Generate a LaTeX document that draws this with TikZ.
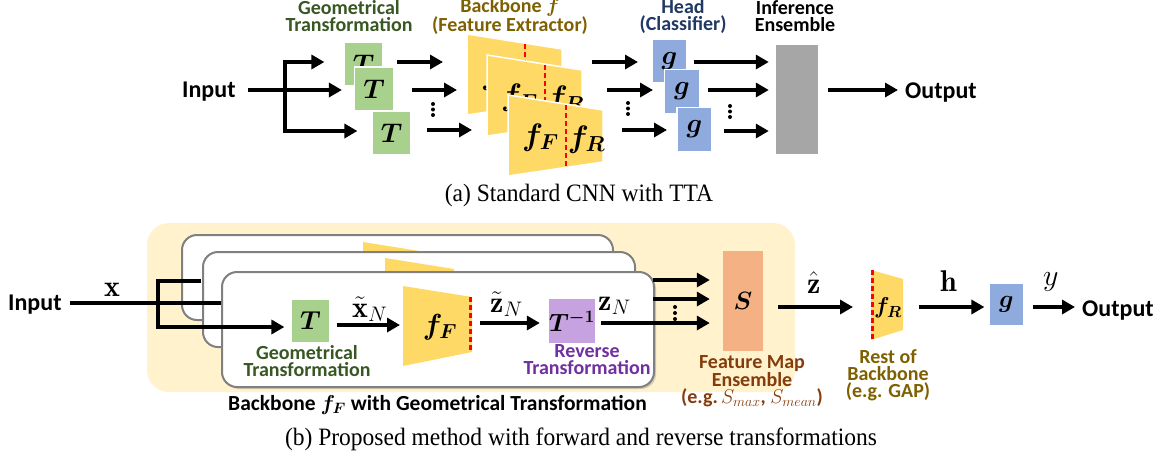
\documentclass[tikz,border=0pt]{standalone}
\usepackage{fix-cm}
\usepackage{bm}
\usepackage{fontspec}
\newfontfamily\carl{Carlito}
\newfontfamily\capserif{Liberation Serif}
\usetikzlibrary{arrows.meta,shadows,calc}
\definecolor{tgreen}{HTML}{A9D18E}
\definecolor{tblue}{HTML}{8FAADC}
\definecolor{ylw}{HTML}{FFD966}
\definecolor{tgray}{HTML}{A6A6A6}
\definecolor{salmon}{HTML}{F4B183}
\definecolor{tpurple}{HTML}{C7A2E0}
\definecolor{bgyel}{HTML}{FFF2CC}
\definecolor{frgray}{HTML}{808080}
\definecolor{hgreen}{HTML}{385723}
\definecolor{holive}{HTML}{7F6000}
\definecolor{hblue}{HTML}{203864}
\definecolor{hbrown}{HTML}{843C0C}
\definecolor{hpurple}{HTML}{7030A0}
\tikzset{
  ln/.style={line width=4pt},
  arr/.style={line width=4pt,-{Triangle[length=13pt,width=14pt]}},
  gbox/.style={fill=tgreen,draw=white,line width=1.2pt,minimum width=39pt,minimum height=44pt,inner sep=0,font=\fontsize{27}{27}\selectfont},
  bbox/.style={fill=tblue,draw=white,line width=1.2pt,minimum width=35pt,minimum height=44pt,inner sep=0,font=\fontsize{27}{27}\selectfont},
  trapbox/.style={minimum width=#1,inner sep=0,outer sep=0},
  lbl/.style={font=\carl\bfseries\fontsize{20}{17}\selectfont,align=center,inner sep=0},
  io/.style={font=\carl\bfseries\fontsize{24}{24}\selectfont,inner sep=0},
  frame/.style={draw=frgray,line width=2pt,fill=white,rounded corners=15pt,inner sep=0},
  reddash/.style={draw=red,line width=2.5pt,dash pattern=on 5pt off 3pt},
  capt/.style={font=\capserif\fontsize{25}{25}\selectfont,inner sep=0},
  mathlbl/.style={font=\fontsize{30}{30}\selectfont,inner sep=0},
  vdot/.style={fill=black},
}
\begin{document}
\begin{tikzpicture}[x=1pt,y=-1pt]
\useasboundingbox (0,0) rectangle (1164,461);
% ---------------- (a) ----------------
\node[lbl,text=hgreen] (labGT) at (349,16.5) {Geometrical\\Transformation};
\node[lbl,text=holive] (labBB) at (510,16.5) {Backbone $\bm{f}$\\(Feature Extractor)};
\node[lbl,text=hblue] (labHD) at (683,16.5) {Head\\(Classifier)};
\node[lbl] (labIE) at (795,16.5) {Inference\\Ensemble};

\node[io,anchor=base west] (inA) at (182,97) {Input};
\coordinate (jA) at (285,90);
\node[gbox] (T1) at (363.5,64) {$\bm{T}$};
\node[gbox] (T2) at (374,89) {$\bm{T}$};
\node[gbox] (T3) at (391.5,133) {$\bm{T}$};
\draw[arr] ([xshift=12pt]inA.east |- jA) -- ([xshift=-12pt]T2.west |- jA);
\draw[arr] (jA) |- ([xshift=-19pt]T1.west |- 0,62);
\draw[arr] (jA) |- ([xshift=-14pt]T3.west |- 0,131);
\coordinate (a1) at (397,62);
\coordinate (a2) at (412,90);
\coordinate (a3) at (427,130);
\draw[arr] (a1) -- ++(46,0);
\draw[arr] (a2) -- ++(45,0);
\draw[arr] (a3) -- ++(45,0);
\foreach \yy in {104,109.5,115} \fill[vdot] (433,\yy) circle (2pt);

% backbones
\foreach \nm/\cx/\cy in {B1/514.5/74.5, B2/534.5/95.5, B3/555.5/135.5}{
  \node[trapbox=95pt,minimum height=81pt] (\nm) at (\cx,\cy) {};
  \fill[ylw,draw=white,line width=1.5pt] (\nm.north west) -- ([yshift=-15pt]\nm.north east) -- ([yshift=14pt]\nm.south east) -- (\nm.south west) -- cycle;
  \draw[reddash] ([xshift=58pt,yshift=-10pt]\nm.north west) -- ([xshift=58pt,yshift=9pt]\nm.south west);
  \node[font=\fontsize{31}{31}\selectfont,inner sep=0] (\nm F) at ([xshift=-15pt,yshift=-2pt]\nm.center) {$\bm{f_F}$};
  \node[font=\fontsize{31}{31}\selectfont,inner sep=0] (\nm R) at ([xshift=31pt,yshift=-4pt]\nm.center) {$\bm{f_R}$};
}
\coordinate (b1) at (592,62);
\coordinate (b2) at (607,90);
\coordinate (b3) at (622,130);
\draw[arr] (b1) -- ++(46,0);
\draw[arr] (b2) -- ++(46,0);
\draw[arr] (b3) -- ++(45,0);
\foreach \yy in {103,108.5,114} \fill[vdot] (628,\yy) circle (2pt);

\node[bbox] (G1) at (669.5,61) {$\bm{g}$};
\node[bbox] (G2) at (682,91.5) {$\bm{g}$};
\node[bbox] (G3) at (694.5,129.5) {$\bm{g}$};
\node[fill=tgray,minimum width=42pt,minimum height=109pt,inner sep=0] (ENS) at (797,99.5) {};
\draw[arr] ([xshift=6pt]G1.east |- 0,62) -- ([xshift=-7pt]ENS.west |- 0,62);
\draw[arr] ([xshift=8pt]G2.east |- 0,90) -- ([xshift=-7pt]ENS.west |- 0,90);
\draw[arr] ([xshift=11pt]G3.east |- 0,131) -- ([xshift=-7pt]ENS.west |- 0,131);
\foreach \yy in {106,111.5,117} \fill[vdot] (730,\yy) circle (2pt);
\node[io,anchor=base west] (outA) at (905,98) {Output};
\draw[arr] ([xshift=10pt]ENS.east |- 0,90) -- ([xshift=-7pt]outA.west |- 0,90);

\node[capt,anchor=base] (capA) at (579,201.5) {\scalebox{0.94}[1]{(a) Standard CNN with TTA}};

% ---------------- (b) ----------------
\node[fill=bgyel,rounded corners=22pt,minimum width=648pt,minimum height=169pt,inner sep=0] (bg) at (471,307.5) {};
\node[io,anchor=base west] (inB) at (8,310) {Input};
\node[mathlbl,anchor=base west] (xlab) at (104,296) {$\mathbf{x}$};
\coordinate (jB) at (158,303);

% back frame
\node[frame,minimum width=431pt,minimum height=85pt] (R1) at (397.5,277.5) {};
\node[trapbox=69pt,minimum height=80pt] (BK1) at (397.5,282) {};
\fill[ylw] (BK1.north west) -- ([yshift=-11pt]BK1.north east) -- ([yshift=14pt]BK1.south east) -- (BK1.south west) -- cycle;
\draw[ln] (jB) |- ([xshift=20pt]R1.west |- 0,281);
% middle frame
\node[frame,minimum width=432pt,minimum height=95pt] (R2) at (419,299.5) {};
\node[trapbox=69pt,minimum height=80pt] (BK2) at (419.5,298) {};
\fill[ylw] (BK2.north west) -- ([yshift=-11pt]BK2.north east) -- ([yshift=14pt]BK2.south east) -- (BK2.south west) -- cycle;
\draw[ln] ([xshift=8pt]inB.east |- jB) -- ([xshift=30pt]R2.west |- jB);
% front frame
\node[frame,minimum width=432pt,minimum height=115pt,drop shadow={shadow xshift=2pt,shadow yshift=-2pt,opacity=0.35}] (R3) at (438,329.5) {};
\node[gbox,minimum width=39pt,font=\fontsize{26}{26}\selectfont] (Tb) at (310.5,321) {$\bm{T}$};
\draw[arr] (jB) |- ([xshift=-6pt]Tb.west |- 0,327);
\node[lbl,text=hgreen] (labGT2) at (307,361.5) {Geometrical\\Transformation};
\node[trapbox=69pt,minimum height=80pt] (FF) at (437.5,326) {};
\fill[ylw] (FF.north west) -- ([yshift=-11pt]FF.north east) -- ([yshift=14pt]FF.south east) -- (FF.south west) -- cycle;
\draw[reddash] ([xshift=-1.5pt,yshift=-11pt]FF.north east) -- ([xshift=-1.5pt,yshift=14pt]FF.south east);
\node[font=\fontsize{29}{29}\selectfont,inner sep=0] (FFt) at (440,327) {$\bm{f_F}$};
\draw[arr] ([xshift=6pt]Tb.east |- 0,325) -- ([xshift=-3pt]FF.west |- 0,325);
\node[mathlbl,anchor=base west] (xtl) at (352,317) {$\tilde{\mathbf{x}}_N$};
\node[fill=tpurple,minimum width=40pt,minimum height=44pt,inner sep=0,font=\fontsize{25}{25}\selectfont] (Ti) at (572,321) {$\bm{T^{-1}}$};
\draw[arr] ([xshift=8pt]FF.east |- 0,323) -- ([xshift=-9pt]Ti.west |- 0,323);
\node[mathlbl,anchor=base west] (ztl) at (490,312) {$\tilde{\mathbf{z}}_N$};
\node[lbl,text=hpurple] (labRT) at (587,360) {Reverse\\Transformation};
\node[mathlbl,anchor=base west] (zN) at (598,310) {$\mathbf{z}_N$};
\node[fill=salmon,minimum width=40pt,minimum height=100pt,inner sep=0,font=\fontsize{25}{25}\selectfont] (S) at (743,301) {$\bm{S}$};
\draw[arr] ([xshift=6pt]Ti.east |- 0,323) -- ([xshift=-13pt]S.west |- 0,323);
\draw[arr] ([xshift=-2pt]R3.east |- 0,280) -- ([xshift=-13pt]S.west |- 0,280);
\draw[arr] ([xshift=-2pt]R3.east |- 0,299) -- ([xshift=-13pt]S.west |- 0,299);
\foreach \yy in {307,313,319} \fill[vdot] (675,\yy) circle (2pt);
\node[lbl,text=hbrown] (labFM) at (752,381) {Feature Map\\Ensemble\\(e.g.\,$S_{max}$, $S_{mean}$)};
\node[lbl,font=\carl\bfseries\fontsize{21.5}{21.5}\selectfont,anchor=base] (labBF) at (437.5,410) {Backbone $\bm{f_F}$ with Geometrical Transformation};

\node[trapbox=32pt,minimum height=70pt] (FR) at (887,305) {};
\fill[ylw] (FR.north west) -- ([yshift=-9pt]FR.north east) -- ([yshift=10pt]FR.south east) -- (FR.south west) -- cycle;
\draw[reddash] ([xshift=1.5pt]FR.north west) -- ([xshift=1.5pt]FR.south west);
\node[font=\fontsize{23}{23}\selectfont,inner sep=0] (FRt) at (888,308) {$\bm{f_R}$};
\draw[arr] ([xshift=15pt]S.east |- 0,307) -- ([xshift=-18pt]FR.west |- 0,307);
\node[mathlbl,anchor=base west] (zh) at (807,293) {$\hat{\mathbf{z}}$};
\node[lbl,text=holive] (labRB) at (888,375.5) {Rest of\\Backbone\\(e.g. GAP)};
\node[bbox,minimum width=35pt,minimum height=43pt,font=\fontsize{25}{25}\selectfont] (Gb) at (1006.5,304.5) {$\bm{g}$};
\draw[arr] ([xshift=16pt]FR.east |- 0,307) -- ([xshift=-4pt]Gb.west |- 0,307);
\node[mathlbl,anchor=base west] (hl) at (940,291) {$\mathbf{h}$};
\node[io,anchor=base west] (outB) at (1082,316) {Output};
\draw[arr] ([xshift=8pt]Gb.east |- 0,307) -- ([xshift=-7pt]outB.west |- 0,307);
\node[mathlbl,anchor=base west] (yl) at (1043,285) {$y$};

\node[capt,anchor=base] (capB) at (581,445.5) {\scalebox{0.94}[1]{(b) Proposed method with forward and reverse transformations}};
\end{tikzpicture}
\end{document}
